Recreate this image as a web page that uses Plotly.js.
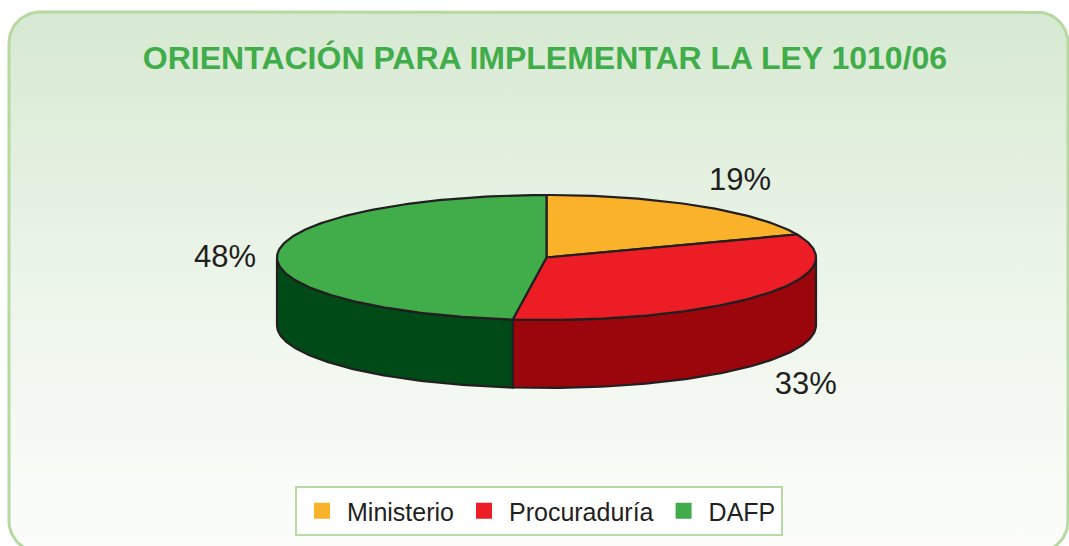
<!DOCTYPE html>
<html>
<head>
<meta charset="utf-8">
<script src="https://cdn.plot.ly/plotly-3.0.1.min.js"></script>
<style>html,body{margin:0;padding:0;background:#ffffff;}#chart{width:1069px;height:546px;}</style>
</head>
<body>
<div id="chart"></div>
<script>
// ---- data ----
const categories = ['Ministerio', 'Procuraduría', 'DAFP'];
const values = [19, 33, 48];
const topColors = ['#f9b229', '#ed1d25', '#40ad4a'];
const sideColors = ['#b07a10', '#9b060d', '#004a17'];
const titleText = 'ORIENTACIÓN PARA IMPLEMENTAR LA LEY 1010/06';

// ---- geometry (pixel-like data space) ----
const W = 1069, H = 546;
const cx = 546.5, cy = 257.5, rx = 269.5, ry = 62.5, depth = 68;
const outline = '#231f20';

function pt(deg, dy) {
  const t = deg * Math.PI / 180;
  return [cx + rx * Math.sin(t), cy - ry * Math.cos(t) + dy];
}
function arc(a, b, dy) {
  const pts = [];
  const n = Math.max(2, Math.ceil(Math.abs(b - a)));
  for (let i = 0; i <= n; i++) pts.push(pt(a + (b - a) * i / n, dy));
  return pts;
}

const traces = [];

// background rounded panel with gradient
(function () {
  const x0 = 9, y0 = 12, x1 = 1068, y1 = 552, r = 31;
  const pts = [];
  function corner(ccx, ccy, a0, a1) {
    for (let i = 0; i <= 20; i++) {
      const a = (a0 + (a1 - a0) * i / 20) * Math.PI / 180;
      pts.push([ccx + r * Math.cos(a), ccy + r * Math.sin(a)]);
    }
  }
  corner(x0 + r, y0 + r, 180, 270);
  corner(x1 - r, y0 + r, 270, 360);
  corner(x1 - r, y1 - r, 0, 90);
  corner(x0 + r, y1 - r, 90, 180);
  pts.push(pts[0]);
  traces.push({
    type: 'scatter', mode: 'lines',
    x: pts.map(p => p[0]), y: pts.map(p => p[1]),
    fill: 'toself',
    fillgradient: { type: 'vertical', colorscale: [[0, '#fcfdfb'], [0.45, '#eef6ec'], [1, '#d7e9d2']] },
    line: { color: '#b6d9a2', width: 3 },
    hoverinfo: 'skip', showlegend: false
  });
})();

const total = values.reduce((s, v) => s + v, 0);
const starts = [], ends = [];
let acc = 0;
values.forEach(v => { starts.push(acc / total * 360); acc += v; ends.push(acc / total * 360); });

// side walls (front half only: 90..270 deg)
values.forEach((v, i) => {
  const a = Math.max(starts[i], 90), b = Math.min(ends[i], 270);
  if (b <= a) return;
  const top = arc(a, b, 0);
  const bot = arc(b, a, depth);
  const pts = top.concat(bot, [top[0]]);
  traces.push({
    type: 'scatter', mode: 'lines',
    x: pts.map(p => p[0]), y: pts.map(p => p[1]),
    fill: 'toself', fillcolor: sideColors[i],
    line: { color: outline, width: 2.2 },
    hoverinfo: 'skip', showlegend: false
  });
});

// top slices
values.forEach((v, i) => {
  const pts = [[cx, cy]].concat(arc(starts[i], ends[i], 0), [[cx, cy]]);
  traces.push({
    type: 'scatter', mode: 'lines',
    x: pts.map(p => p[0]), y: pts.map(p => p[1]),
    fill: 'toself', fillcolor: topColors[i],
    line: { color: outline, width: 2.2 },
    hoverinfo: 'skip', showlegend: false
  });
});

// percentage labels
const lx = [], ly = [], lt = [];
values.forEach((v, i) => {
  const mid = (starts[i] + ends[i]) / 2 * Math.PI / 180;
  const s = Math.sin(mid), c = Math.cos(mid);
  const rfx = c < 0 ? 1.18 : 1.225;
  lx.push(cx + rfx * rx * s + 8);
  ly.push(cy - 1.5 * ry * c + (c < 0 ? depth + 1 : 0) + (Math.abs(s) > 0.95 ? 8 : 2));
  lt.push(Math.round(v / total * 100) + '%');
});
traces.push({
  type: 'scatter', mode: 'text', x: lx, y: ly, text: lt,
  textposition: 'middle center',
  textfont: { family: 'Liberation Sans, Arial, sans-serif', size: 31, color: '#231f20' },
  hoverinfo: 'skip', showlegend: false
});

// legend entries
categories.forEach((name, i) => {
  traces.push({
    type: 'scatter', mode: 'markers', x: [null], y: [null], name: name,
    marker: { symbol: 'square', size: 16, color: topColors[i] },
    showlegend: true, hoverinfo: 'skip'
  });
});

const layout = {
  width: W, height: H,
  margin: { l: 0, r: 0, t: 0, b: 0 },
  paper_bgcolor: '#ffffff', plot_bgcolor: 'rgba(0,0,0,0)',
  xaxis: { range: [0, W], visible: false, fixedrange: true },
  yaxis: { range: [H, 0], visible: false, fixedrange: true },
  title: {
    text: '<b>' + titleText + '</b>',
    x: 545 / W, xanchor: 'center', xref: 'container',
    y: 1 - 58 / H, yanchor: 'middle', yref: 'container',
    font: { family: 'Liberation Sans, Arial, sans-serif', size: 32, color: '#40ad4a' }
  },
  showlegend: true,
  legend: {
    orientation: 'h', x: 539 / W, xanchor: 'center', y: 1 - 486 / H, yanchor: 'top',
    bgcolor: '#ffffff', bordercolor: '#b8dba5', borderwidth: 2,
    itemwidth: 40,
    font: { family: 'Liberation Sans, Arial, sans-serif', size: 25, color: '#231f20' },
    traceorder: 'normal'
  }
};

Plotly.newPlot('chart', traces, layout, { displayModeBar: false, staticPlot: true });
</script>
</body>
</html>
